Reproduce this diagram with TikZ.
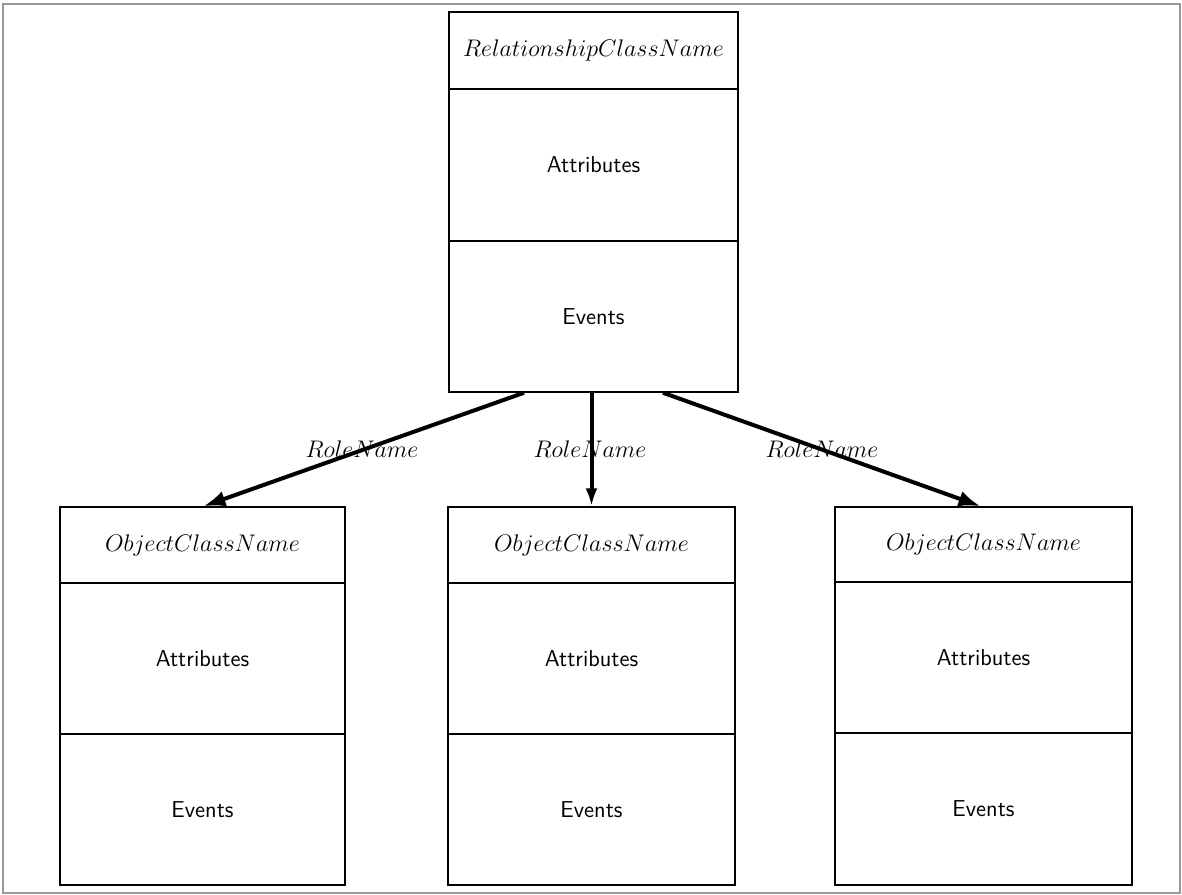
\documentclass[tikz,border=0pt]{standalone}
\usetikzlibrary{arrows.meta,calc}
\begin{document}
\begin{tikzpicture}[x=0.5pt,y=-0.5pt,
  comp/.style={draw,line width=0.75pt,rectangle,inner sep=0pt,anchor=center},
  titletext/.style={font=\fontsize{11.5}{14}\selectfont},
  bodytext/.style={font=\sffamily\fontsize{11.5}{14}\selectfont},
  role/.style={font=\fontsize{11.5}{14}\selectfont,inner sep=0pt},
  assoc/.style={line width=2pt,-{Latex[length=11pt,width=8pt]}},
  assocmid/.style={line width=2pt,-{Latex[open,length=9pt,width=6pt]}}]
\useasboundingbox (0,0) rectangle (1182,894);
% page frame
\draw[gray!80,line width=0.6pt] (3,4) rectangle (1180,893);

% relationship class
\node[comp,minimum width=144.5pt,minimum height=38.5pt,titletext] (th) at (593.5,50.5) {$RelationshipClassName$};
\node[comp,minimum width=144.5pt,minimum height=76pt,bodytext] (ta) at (593.5,165) {Attributes};
\node[comp,minimum width=144.5pt,minimum height=75.5pt,bodytext] (te) at (593.5,316.5) {Events};

% left object class
\node[comp,minimum width=142.5pt,minimum height=38pt,titletext] (lh) at (202.5,545) {$ObjectClassName$};
\node[comp,minimum width=142.5pt,minimum height=75.5pt,bodytext] (la) at (202.5,658.5) {Attributes};
\node[comp,minimum width=142.5pt,minimum height=75.5pt,bodytext] (le) at (202.5,809.5) {Events};

% middle object class
\node[comp,minimum width=143.5pt,minimum height=38pt,titletext] (mh) at (591.5,545) {$ObjectClassName$};
\node[comp,minimum width=143.5pt,minimum height=75.5pt,bodytext] (ma) at (591.5,658.5) {Attributes};
\node[comp,minimum width=143.5pt,minimum height=75.5pt,bodytext] (me) at (591.5,809.5) {Events};

% right object class
\node[comp,minimum width=148.5pt,minimum height=37.5pt,titletext] (rh) at (983.5,544.5) {$ObjectClassName$};
\node[comp,minimum width=148.5pt,minimum height=75.5pt,bodytext] (ra) at (983.5,657.5) {Attributes};
\node[comp,minimum width=148.5pt,minimum height=76pt,bodytext] (re) at (983.5,809) {Events};

% roles
\coordinate (sl) at ($(te.south)+(-69.5,0)$);
\coordinate (sr) at ($(te.south)+(69.5,0)$);
\draw[assoc] (sl) -- ($(lh.north)+(1,0)$);
\draw[assocmid] (te.south -| mh.north) -- (mh.north);
\draw[assoc] (sr) -- ($(rh.north)+(-3,0)$);
\node[role] (rl) at (362,449) {$RoleName$};
\node[role] (rm) at (590,449) {$RoleName$};
\node[role] (rr) at (822,449) {$RoleName$};
\end{tikzpicture}
\end{document}
